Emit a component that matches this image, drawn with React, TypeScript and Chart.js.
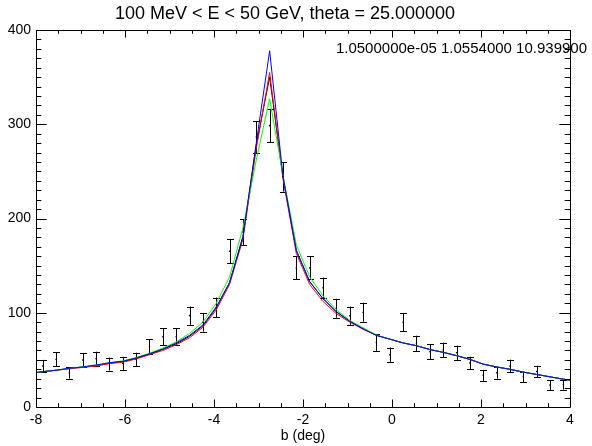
import React, { useEffect, useRef } from 'react';
import { Chart, registerables } from 'chart.js';

Chart.register(...registerables);

// ---- data ----
const binCenters = [
  -7.85, -7.55, -7.25, -6.95, -6.65, -6.35, -6.05, -5.75, -5.45, -5.15,
  -4.85, -4.55, -4.25, -3.95, -3.65, -3.35, -3.05, -2.75, -2.45, -2.15,
  -1.85, -1.55, -1.25, -0.95, -0.65, -0.35, -0.05, 0.25, 0.55, 0.85,
  1.15, 1.45, 1.75, 2.05, 2.35, 2.65, 2.95, 3.25, 3.55, 3.85,
];
const counts = [
  43.5, 50.6, 36.1, 49.9, 51.3, 45.6, 46.3, 50.6, 64.2, 74.5,
  74.6, 96.9, 89.8, 105.7, 165.2, 185.7, 286.5, 298.5, 244.2, 147.6,
  147.6, 126.4, 104.8, 96.8, 100.6, 68.3, 55.5, 89.8, 67.6, 58.7,
  60.5, 57.6, 46.7, 33.6, 36.4, 43.5, 31.8, 37.6, 23.2, 23.5,
];
const countErrors = [
  6.5, 7.4, 6.0, 7.0, 7.4, 6.9, 6.9, 7.0, 7.8, 8.8,
  8.7, 9.7, 9.7, 10.4, 12.7, 13.8, 17.0, 17.5, 15.6, 12.2,
  12.2, 11.0, 10.0, 9.7, 10.0, 8.8, 7.6, 9.5, 8.1, 7.8,
  7.8, 7.6, 6.7, 5.8, 6.2, 6.7, 5.8, 6.2, 5.0, 5.0,
];

const modelX = [-8, ...binCenters, 4];
const modelBlue = [
  36.5,
  37.5, 39, 41, 42.5, 44.5, 47, 48.5, 52, 56.5, 61.5,
  68, 76, 87, 106, 132, 180, 280, 378, 245, 166,
  133, 115, 101, 91, 83, 76, 72, 68, 65, 61,
  58, 54.5, 50.5, 45.5, 42.5, 40, 37, 34.5, 32, 29.5,
  28.5,
];
const modelRed = [
  36.5,
  37.5, 39, 40.5, 42, 43.5, 46, 47.5, 51, 55.5, 60,
  66, 73.5, 84.5, 103, 130, 178, 274, 355, 242, 163,
  130, 112, 99, 90, 82.5, 76, 72, 68, 65, 61,
  58, 54.5, 50.5, 45.5, 42.5, 40, 37, 34.5, 32, 29.5,
  28.5,
];
const modelGreen = [
  36.5,
  37.5, 39, 41, 42.5, 44.5, 47, 49, 52.5, 57, 62.5,
  69, 78, 90, 110, 138, 190, 262, 327, 246, 172,
  138, 118, 103, 92, 84, 76.5, 72, 68, 65, 61,
  58, 54.5, 50.5, 45.5, 42.5, 40, 37, 34.5, 32, 29.5,
  28.5,
];
const modelBlack = [
  36.5,
  37.5, 39, 41, 42.5, 44, 46.5, 48, 51.5, 56, 61,
  67, 75, 86, 105, 132, 181, 278, 350, 244, 166,
  133, 115, 101, 91, 83, 76, 72, 68, 65, 61,
  58, 54.5, 50.5, 45.5, 42.5, 40, 37, 34.5, 32, 29.5,
  28.5,
];

const xTickValues = [-8, -6, -4, -2, 0, 2, 4];
const yTickValues = [0, 100, 200, 300, 400];
const xMinorStep = 0.5;
const yMinorStep = 10;

const titleText = '100 MeV < E < 50 GeV, theta = 25.000000';
const noteText = '1.0500000e-05 1.0554000 10.939900';
const xAxisLabel = 'b (deg)';

const FONT = "'Liberation Sans', Arial, Helvetica, sans-serif";

const errorBarPlugin = {
  id: 'errorBars',
  beforeDatasetsDraw(chart: any) {
    const { ctx, scales } = chart;
    const xs = scales.x;
    const ys = scales.y;
    ctx.save();
    ctx.strokeStyle = '#000';
    ctx.lineWidth = 1;
    ctx.beginPath();
    for (let i = 0; i < binCenters.length; i++) {
      const px = Math.round(xs.getPixelForValue(binCenters[i])) + 0.5;
      const top = ys.getPixelForValue(counts[i] + countErrors[i]);
      const bot = ys.getPixelForValue(counts[i] - countErrors[i]);
      ctx.moveTo(px, top);
      ctx.lineTo(px, bot);
      ctx.moveTo(px - 3.5, Math.round(top) + 0.5);
      ctx.lineTo(px + 3.5, Math.round(top) + 0.5);
      ctx.moveTo(px - 3.5, Math.round(bot) + 0.5);
      ctx.lineTo(px + 3.5, Math.round(bot) + 0.5);
    }
    ctx.stroke();
    ctx.restore();
  },
};

const framePlugin = {
  id: 'idlFrame',
  afterDraw(chart: any) {
    const { ctx, chartArea, scales } = chart;
    const xs = scales.x;
    const ys = scales.y;
    const { left, right, top, bottom } = chartArea;
    const w = right - left;
    const h = bottom - top;
    const xMaj = 0.02 * h;
    const yMaj = 0.02 * w;
    ctx.save();
    ctx.strokeStyle = '#000';
    ctx.lineWidth = 1;
    ctx.beginPath();
    ctx.rect(Math.round(left) + 0.5, Math.round(top) + 0.5, Math.round(w), Math.round(h));
    const xmin = xs.min, xmax = xs.max;
    for (let v = xmin; v <= xmax + 1e-9; v += xMinorStep) {
      const isMajor = xTickValues.some((t) => Math.abs(t - v) < 1e-6);
      const len = isMajor ? xMaj : xMaj / 2;
      const px = Math.round(xs.getPixelForValue(v)) + 0.5;
      ctx.moveTo(px, bottom);
      ctx.lineTo(px, bottom - len);
      ctx.moveTo(px, top);
      ctx.lineTo(px, top + len);
    }
    const ymin = ys.min, ymax = ys.max;
    for (let v = ymin; v <= ymax + 1e-9; v += yMinorStep) {
      const isMajor = yTickValues.some((t) => Math.abs(t - v) < 1e-6);
      const len = isMajor ? yMaj : yMaj / 2;
      const py = Math.round(ys.getPixelForValue(v)) + 0.5;
      ctx.moveTo(left, py);
      ctx.lineTo(left + len, py);
      ctx.moveTo(right, py);
      ctx.lineTo(right - len, py);
    }
    ctx.stroke();
    ctx.fillStyle = '#000';
    ctx.font = `15px ${FONT}`;
    ctx.textAlign = 'right';
    ctx.textBaseline = 'middle';
    ctx.fillText(noteText, right + 17, top + 19);
    ctx.restore();
  },
};

export default function App() {
  const canvasRef = useRef<HTMLCanvasElement | null>(null);

  useEffect(() => {
    document.body.style.margin = '0';
    const canvas = canvasRef.current;
    if (!canvas) return;

    const line = (label: string, data: number[], color: string, order: number) => ({
      type: 'line' as const,
      label,
      data: modelX.map((x, i) => ({ x, y: data[i] })),
      borderColor: color,
      backgroundColor: color,
      borderWidth: 1,
      pointRadius: 0,
      tension: 0,
      fill: false,
      order,
    });

    const chart = new Chart(canvas, {
      type: 'scatter',
      data: {
        datasets: [
          {
            type: 'scatter' as const,
            label: 'data',
            data: binCenters.map((x, i) => ({ x, y: counts[i] })),
            pointRadius: 0.8,
            pointBorderWidth: 0,
            backgroundColor: '#000',
            borderColor: '#000',
            order: 0,
          },
          line('blue', modelBlue, '#0000ff', 1),
          line('green', modelGreen, '#00ff00', 2),
          line('red', modelRed, '#ff0000', 3),
          line('black', modelBlack, '#000000', 4),
        ] as any,
      },
      options: {
        responsive: false,
        animation: false,
        devicePixelRatio: 1,
        layout: { padding: { left: 0, right: 22, top: 0, bottom: 0 } },
        plugins: {
          legend: { display: false },
          tooltip: { enabled: false },
          title: {
            display: true,
            text: titleText,
            color: '#000',
            font: { family: FONT, size: 18, weight: 'normal' },
            padding: { top: 3, bottom: 5.4 },
          },
        },
        scales: {
          x: {
            type: 'linear',
            min: -8,
            max: 4,
            grid: { display: false, drawTicks: false },
            border: { display: false },
            afterBuildTicks: (scale: any) => {
              scale.ticks = xTickValues.map((v) => ({ value: v }));
            },
            afterFit: (scale: any) => {
              scale.height = 39;
            },
            ticks: {
              color: '#000',
              font: { family: FONT, size: 14 },
              padding: 5,
              maxRotation: 0,
              autoSkip: false,
            },
            title: {
              display: true,
              text: xAxisLabel,
              color: '#000',
              font: { family: FONT, size: 14 },
              padding: { top: 0, bottom: 1 },
            },
          },
          y: {
            type: 'linear',
            min: 0,
            max: 400,
            grid: { display: false, drawTicks: false },
            border: { display: false },
            afterBuildTicks: (scale: any) => {
              scale.ticks = yTickValues.map((v) => ({ value: v }));
            },
            afterFit: (scale: any) => {
              scale.width = 36;
            },
            ticks: {
              color: '#000',
              font: { family: FONT, size: 14 },
              padding: 5,
              autoSkip: false,
            },
          },
        },
      } as any,
      plugins: [errorBarPlugin, framePlugin],
    });

    return () => {
      chart.destroy();
    };
  }, []);

  return (
    <div style={{ width: 592, height: 446, background: '#fff' }}>
      <canvas ref={canvasRef} width={592} height={446} style={{ display: 'block' }} />
    </div>
  );
}
